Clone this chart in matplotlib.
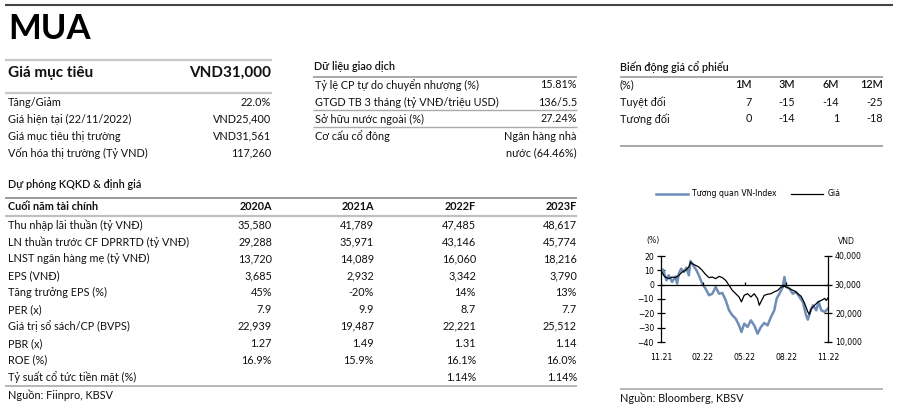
import numpy as np
import matplotlib.pyplot as plt
from matplotlib.lines import Line2D

plt.rcParams['font.family'] = ['Lato', 'DejaVu Sans']

# ---- data ----
target_rows = ["Tăng/Giảm", "Giá hiện tại (22/11/2022)", "Giá mục tiêu thị trường", "Vốn hóa thị trường (Tỷ VND)"]
target_vals = ["22.0%", "VND25,400", "VND31,561", "117,260"]

trade_rows = ["Tỷ lệ CP tự do chuyển nhượng (%)", "GTGD TB 3 tháng (tỷ VNĐ/triệu USD)", "Sở hữu nước ngoài (%)", "Cơ cấu cổ đông"]
trade_vals = ["15.81%", "136/5.5", "27.24%", "Ngân hàng nhà\nnước (64.46%)"]

perf_cols = ["1M", "3M", "6M", "12M"]
perf_abs = [7, -15, -14, -25]
perf_rel = [0, -14, 1, -18]

fc_years = ["2020A", "2021A", "2022F", "2023F"]
fc_rows = ["Thu nhập lãi thuần (tỷ VNĐ)", "LN thuần trước CF DPRRTD (tỷ VNĐ)", "LNST ngân hàng mẹ (tỷ VNĐ)",
           "EPS (VNĐ)", "Tăng trưởng EPS (%)", "PER (x)", "Giá trị sổ sách/CP (BVPS)", "PBR (x)", "ROE (%)",
           "Tỷ suất cổ tức tiền mặt (%)"]
fc_vals = [
    ["35,580", "41,789", "47,485", "48,617"],
    ["29,288", "35,971", "43,146", "45,774"],
    ["13,720", "14,089", "16,060", "18,216"],
    ["3,685", "2,932", "3,342", "3,790"],
    ["45%", "-20%", "14%", "13%"],
    ["7.9", "9.9", "8.7", "7.7"],
    ["22,939", "19,487", "22,221", "25,512"],
    ["1.27", "1.49", "1.31", "1.14"],
    ["16.9%", "15.9%", "16.1%", "16.0%"],
    ["", "", "1.14%", "1.14%"],
]

# chart: months since 11.21
price_m = [0.00, 0.19, 0.31, 0.55, 0.80, 1.04, 1.28, 1.52, 1.76, 2.00, 2.12, 2.24, 2.48, 2.72, 2.96,
           3.20, 3.45, 3.69, 3.93, 4.17, 4.41, 4.65, 4.89, 5.13, 5.37, 5.61, 5.78, 5.98, 6.22, 6.46,
           6.70, 6.94, 7.06, 7.23, 7.42, 7.66, 7.90, 8.14, 8.39, 8.63, 8.87, 9.11, 9.35, 9.59, 9.83,
           10.07, 10.31, 10.55, 10.67, 10.80, 11.04, 11.28, 11.52, 11.76, 11.88, 12.00]
price = [35000, 33250, 32650, 32100, 32650, 32450, 33250, 34400, 35000, 36150, 37900, 37350, 36750, 36150, 35000,
         33600, 32450, 32650, 32100, 32900, 32450, 31500, 29750, 28000, 26850, 25700, 24000, 26300, 26850, 25700,
         26850, 25100, 22800, 24500, 26300, 26650, 26850, 27500, 28000, 29200, 29400, 29000, 28350, 27800, 26850,
         25950, 23600, 20500, 19650, 21650, 22800, 24000, 24500, 25200, 24500, 25400]

rel_m = [0.00, 0.14, 0.24, 0.39, 0.55, 0.80, 1.04, 1.16, 1.28, 1.45, 1.64, 1.83, 2.00, 2.12, 2.31, 2.55,
         2.72, 2.96, 3.20, 3.45, 3.69, 3.93, 4.17, 4.41, 4.65, 4.89, 5.13, 5.37, 5.61, 5.78, 5.98, 6.22,
         6.46, 6.70, 6.94, 7.18, 7.42, 7.66, 7.90, 8.14, 8.31, 8.51, 8.75, 8.87, 8.99, 9.23, 9.47, 9.71,
         9.95, 10.19, 10.43, 10.55, 10.75, 10.92, 11.16, 11.33, 11.52, 11.76, 12.00]
rel = [10, 10.5, 7.7, 3, 6.5, 1.9, 5.8, 0.7, 7.7, 11.2, 8.8, 11.9, 6.5, 16.5, 13.5, 10,
       6.5, 0.7, -2.8, -7.4, -6.3, -1.6, -6.3, -5.8, -10.9, -17.9, -21.4, -23.7, -28.4, -33, -27.2, -29.5,
       -24.9, -28.4, -34.2, -29.5, -26.7, -28.4, -22.6, -17.9, -9.8, -6.3, -1.6, 5.3, -1.6, -2.8, -6.3, -5,
       -8.6, -12, -21.4, -24.4, -17.9, -14.4, -17.9, -12, -17.9, -19, -16.7]

month_ticks = [0, 3, 6, 9, 12]
month_labels = ["11.21", "02.22", "05.22", "08.22", "11.22"]

# ---- page layout (pixel coords) ----
W, H = 899, 405
fig = plt.figure(figsize=(W / 100, H / 100), dpi=100)
bg = fig.add_axes([0, 0, 1, 1])
bg.set_xlim(0, W)
bg.set_ylim(H, 0)
bg.axis('off')

fs = 7.8
txt = '#111111'

def hline(y, x0, x1, c='#999999', lw=1.2):
    bg.plot([x0, x1], [y, y], color=c, lw=lw, solid_capstyle='butt')

hline(5, 5, 893, c='#444444', lw=1.5)
bg.text(8, 29, "MUA", fontsize=25, fontweight='bold', va='center', color='black')

# target price block
hline(60, 5, 272, c='#c8c8c8', lw=1.6)
bg.text(8, 73, "Giá mục tiêu", fontsize=11, fontweight='bold', va='center', color=txt)
bg.text(271, 73, "VND31,000", fontsize=11, fontweight='bold', va='center', ha='right', color=txt)
hline(93, 5, 272, c='#c8c8c8', lw=1.6)
for i, (r, v) in enumerate(zip(target_rows, target_vals)):
    y = 102 + i * 17
    bg.text(8, y, r, fontsize=fs, va='center', color=txt)
    bg.text(271, y, v, fontsize=fs, va='center', ha='right', color=txt)

# trading data block
bg.text(314, 67, "Dữ liệu giao dịch", fontsize=fs, fontweight='semibold', va='center', color=txt)
hline(77, 313, 577)
for i, (r, v) in enumerate(zip(trade_rows, trade_vals)):
    y = 85 + i * 17
    bg.text(315, y, r, fontsize=fs, va='center', color=txt)
    if "\n" in v:
        a, b = v.split("\n")
        bg.text(577, y, a, fontsize=fs, va='center', ha='right', color=txt)
        bg.text(577, y + 17, b, fontsize=fs, va='center', ha='right', color=txt)
    else:
        bg.text(577, y, v, fontsize=fs, va='center', ha='right', color=txt)
hline(110, 313, 577, c='#aaaaaa', lw=1.0)
hline(127, 313, 577, c='#aaaaaa', lw=1.0)

# price performance block
bg.text(620, 67, "Biến động giá cổ phiếu", fontsize=fs, fontweight='semibold', va='center', color=txt)
hline(77, 620, 883)
col_x = [752, 795, 839, 883]
bg.text(620, 85, "(%)", fontsize=fs, va='center', color=txt)
bg.text(620, 102, "Tuyệt đối", fontsize=fs, va='center', color=txt)
bg.text(620, 119, "Tương đối", fontsize=fs, va='center', color=txt)
for x, c, a, r in zip(col_x, perf_cols, perf_abs, perf_rel):
    bg.text(x, 85, c, fontsize=fs, fontweight='semibold', va='center', ha='right', color=txt)
    bg.text(x, 102, str(a), fontsize=fs, va='center', ha='right', color=txt)
    bg.text(x, 119, str(r), fontsize=fs, va='center', ha='right', color=txt)
hline(146, 620, 883)

# forecast table
bg.text(8, 184, "Dự phóng KQKD & định giá", fontsize=fs, fontweight='semibold', va='center', color=txt)
hline(198, 5, 577, c='#888888', lw=1.2)
yr_x = [272, 374, 476, 577]
bg.text(8, 206, "Cuối năm tài chính", fontsize=fs, fontweight='bold', va='center', color=txt)
for x, yname in zip(yr_x, fc_years):
    bg.text(x, 206, yname, fontsize=fs, fontweight='bold', va='center', ha='right', color=txt)
hline(216, 5, 577, c='#c0c0c0', lw=1.6)
for i, (r, vals) in enumerate(zip(fc_rows, fc_vals)):
    y = 225 + i * 16.9
    bg.text(8, y, r, fontsize=fs, va='center', color=txt)
    for x, v in zip(yr_x, vals):
        bg.text(x, y, v, fontsize=fs, va='center', ha='right', color=txt)
hline(386, 5, 577, c='#aaaaaa', lw=1.2)
bg.text(8, 395, "Nguồn: Fiinpro, KBSV", fontsize=fs, va='center', color=txt)

# ---- stock chart ----
cfont = ['DejaVu Sans']
cfs = 5.6
blue = '#6f8db5'
ax = fig.add_axes([661 / W, (H - 342) / H, 167 / W, 86 / H])
ax.set_facecolor('none')
ax.plot(rel_m, rel, color=blue, lw=1.8)
ax.axhline(0, color='black', lw=0.9)
ax.vlines(month_ticks, 0, 1.8, color='black', lw=0.9)
ax.set_xlim(0, 12)
ax.set_ylim(-40, 20)
ax.set_yticks([20, 10, 0, -10, -20, -30, -40])
ax.set_xticks(month_ticks)
ax.set_xticklabels(month_labels, fontsize=cfs, family=cfont)
ax.tick_params(axis='x', length=0, pad=8)
ax.tick_params(axis='y', direction='inout', length=6, width=0.9, labelsize=cfs, pad=2)
for lab in ax.get_yticklabels():
    lab.set_family(cfont)
for s in ['top', 'bottom', 'right']:
    ax.spines[s].set_visible(False)
ax.spines['left'].set_linewidth(0.9)

ax2 = ax.twinx()
ax2.plot(price_m, price, color='black', lw=0.9)
ax2.set_ylim(10000, 40000)
ax2.set_yticks([40000, 30000, 20000, 10000])
ax2.set_yticklabels(["40,000", "30,000", "20,000", "10,000"], fontsize=cfs, family=cfont)
ax2.tick_params(axis='y', direction='inout', length=6, width=0.9, pad=2)
for s in ['top', 'bottom', 'left']:
    ax2.spines[s].set_visible(False)
ax2.spines['right'].set_linewidth(0.9)

bg.text(653, 241, "(%)", fontsize=cfs, family=cfont, va='center', ha='center', color=txt)
bg.text(846, 241, "VND", fontsize=cfs, family=cfont, va='center', ha='center', color=txt)

handles = [Line2D([], [], color=blue, lw=1.8), Line2D([], [], color='black', lw=0.9)]
fig.legend(handles, ["Tương quan VN-Index", "Giá"], loc='center', bbox_to_anchor=(748 / W, (H - 194) / H),
           ncol=2, frameon=False, handlelength=4.2, columnspacing=1.8, handletextpad=0.5,
           prop={'family': cfont, 'size': cfs})

hline(389, 620, 883, c='#aaaaaa', lw=1.2)
bg.text(620, 398, "Nguồn: Bloomberg, KBSV", fontsize=fs, va='center', color=txt)

fig.savefig("out.png", dpi=100)
